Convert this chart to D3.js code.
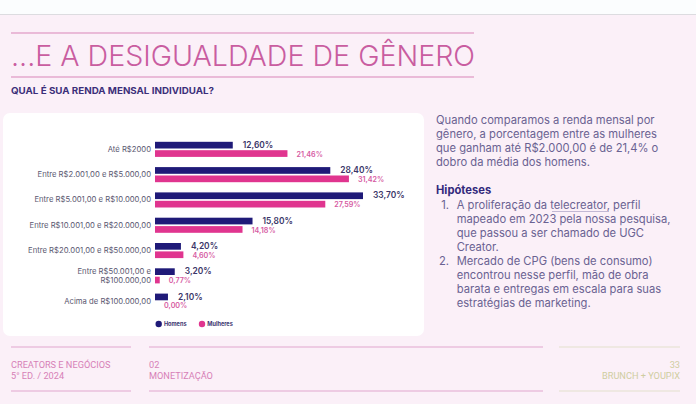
<!DOCTYPE html>
<html>
<head>
<meta charset="utf-8">
<script src="https://cdn.jsdelivr.net/npm/d3@7"></script>
<style>
html, body { margin: 0; padding: 0; background: #fbf0f8; overflow: hidden; }
svg { display: block; }
text { font-family: Inter, "Noto Sans", sans-serif; }
</style>
</head>
<body>
<div id="chart"></div>
<script>
var categories = [
	['Até R$2000'],
	['Entre R$2.001,00 e R$5.000,00'],
	['Entre R$5.001,00 e R$10.000,00'],
	['Entre R$10.001,00 e R$20.000,00'],
	['Entre R$20.001,00 e R$50.000,00'],
	['Entre R$50.001,00 e', 'R$100.000,00'],
	['Acima de R$100.000,00']
];
var homens = [12.6, 28.4, 33.7, 15.8, 4.2, 3.2, 2.1];
var mulheres = [21.46, 31.42, 27.59, 14.18, 4.6, 0.77, 0];
var seriesNames = ['Homens', 'Mulheres'];
var paragraph = [
	'Quando comparamos a renda mensal por',
	'gênero, a porcentagem entre as mulheres',
	'que ganham até R$2.000,00 é de 21,4% o',
	'dobro da média dos homens.'
];
var hypotheses = [
	['A proliferação da telecreator, perfil', 'mapeado em 2023 pela nossa pesquisa,', 'que passou a ser chamado de UGC', 'Creator.'],
	['Mercado de CPG (bens de consumo)', 'encontrou nesse perfil, mão de obra', 'barata e entregas em escala para suas', 'estratégias de marketing.']
];

var navy = '#1f1a78', pink = '#e0358f', textPurple = '#6a6292', rule = '#e2a6cd';

var svg = d3.select('#chart').append('svg').attr('width', 696).attr('height', 404);

function fmt(v) { return v.toFixed(2).replace('.', ',') + '%'; }

// page background
svg.append('rect').attr('width', 696).attr('height', 14).attr('fill', '#fbfdfe');
svg.append('rect').attr('y', 14).attr('width', 696).attr('height', 1).attr('fill', '#dcdce0');

// title block
[33, 77].forEach(function(y) {
	svg.append('line').attr('x1', 11).attr('x2', 474).attr('y1', y).attr('y2', y)
		.attr('stroke', '#d985b8').attr('stroke-width', 1);
});
svg.append('text').attr('x', 11).attr('y', 66).attr('font-size', 29).attr('fill', '#c95da0')
	.attr('font-weight', 300).attr('textLength', 464).attr('lengthAdjust', 'spacingAndGlyphs')
	.text('...E A DESIGUALDADE DE GÊNERO');
svg.append('text').attr('x', 11).attr('y', 94).attr('font-size', 9).attr('font-weight', 700)
	.attr('fill', '#3b2f7a').attr('textLength', 203).attr('lengthAdjust', 'spacingAndGlyphs')
	.text('QUAL É SUA RENDA MENSAL INDIVIDUAL?');

// card
svg.append('rect').attr('x', 3).attr('y', 113).attr('width', 421).attr('height', 223).attr('rx', 7).attr('fill', '#ffffff');

// chart
var x = d3.scaleLinear().domain([0, 33.7]).range([155, 363]);
var y = d3.scaleBand().domain(d3.range(categories.length)).range([136.7, 313.8]);
var bandH = 6.7, gap = 1.7;

var row = svg.selectAll('g.row').data(categories).enter().append('g').attr('class', 'row')
	.attr('transform', function(d, i) { return 'translate(0,' + (y(i) + y.bandwidth() / 2) + ')'; });

row.each(function(lines) {
	var g = d3.select(this);
	lines.forEach(function(t, j) {
		g.append('text').attr('x', 151).attr('y', (j - (lines.length - 1) / 2) * 9.5 + 2.5)
			.attr('text-anchor', 'end').attr('font-size', 7.7).attr('fill', '#5a5770').text(t);
	});
});

row.append('rect').attr('x', x(0)).attr('y', -bandH - gap / 2).attr('height', bandH)
	.attr('width', function(d, i) { return x(homens[i]) - x(0); }).attr('fill', navy);
row.append('rect').attr('x', x(0)).attr('y', gap / 2).attr('height', bandH)
	.attr('width', function(d, i) { return x(mulheres[i]) - x(0); }).attr('fill', pink);

row.append('text').attr('x', function(d, i) { return x(homens[i]) + 10; }).attr('y', -1.5)
	.attr('font-size', 8.4).attr('font-weight', 600).attr('fill', '#3a3568')
	.text(function(d, i) { return fmt(homens[i]); });
row.append('text').attr('x', function(d, i) { return x(mulheres[i]) + 9; }).attr('y', 7.3)
	.attr('font-size', 7.2).attr('font-weight', 600).attr('fill', '#d65aa2')
	.text(function(d, i) { return fmt(mulheres[i]); });

// legend
var legend = svg.selectAll('g.legend').data(seriesNames).enter().append('g').attr('class', 'legend')
	.attr('transform', function(d, i) { return 'translate(' + (158.7 + i * 43.3) + ',324)'; });
legend.append('circle').attr('r', 3.2).attr('fill', function(d, i) { return i ? pink : navy; });
legend.append('text').attr('x', 5.2).attr('y', 2).attr('font-size', 5.6).attr('font-weight', 700)
	.attr('fill', '#3b3570').text(function(d) { return d; });

// side text
var side = svg.append('g').attr('font-size', 11.2).attr('fill', textPurple);
paragraph.forEach(function(t, i) {
	side.append('text').attr('x', 436).attr('y', 124 + i * 14).text(t);
});
side.append('text').attr('x', 436).attr('y', 194).attr('font-weight', 700).attr('fill', '#32297c').text('Hipóteses');
var lineNo = 0;
hypotheses.forEach(function(lines, h) {
	side.append('text').attr('x', 449).attr('y', 208.7 + lineNo * 14).attr('text-anchor', 'end').text((h + 1) + '.');
	lines.forEach(function(t) {
		side.append('text').attr('x', 456.7).attr('y', 208.7 + lineNo * 14).text(t);
		lineNo++;
	});
});
svg.append('line').attr('x1', 552).attr('x2', 609).attr('y1', 211.5).attr('y2', 211.5)
	.attr('stroke', '#a99fc4').attr('stroke-width', 0.7);

// footer
var footerRules = [[11, 131, rule], [149, 543, rule], [559, 680, '#e4e0cc']];
[347, 391].forEach(function(ry) {
	footerRules.forEach(function(r) {
		svg.append('line').attr('x1', r[0]).attr('x2', r[1]).attr('y1', ry).attr('y2', ry)
			.attr('stroke', r[2]).attr('stroke-width', 1.2);
	});
});
var footer = svg.append('g').attr('font-size', 9.2);
[['CREATORS E NEGÓCIOS', 11, 367.5, 'start', '#d77fb7'],
 ['5° ED. / 2024', 11, 378.5, 'start', '#d77fb7'],
 ['02', 149, 367.5, 'start', '#d77fb7'],
 ['MONETIZAÇÃO', 149, 378.5, 'start', '#d77fb7'],
 ['33', 680, 367.5, 'end', '#cfcda0'],
 ['BRUNCH + YOUPIX', 680, 378.5, 'end', '#cfcda0']
].forEach(function(d) {
	footer.append('text').attr('x', d[1]).attr('y', d[2]).attr('text-anchor', d[3]).attr('fill', d[4])
		.attr('style', 'font-family:Roboto,sans-serif').text(d[0]);
});
</script>
</body>
</html>
